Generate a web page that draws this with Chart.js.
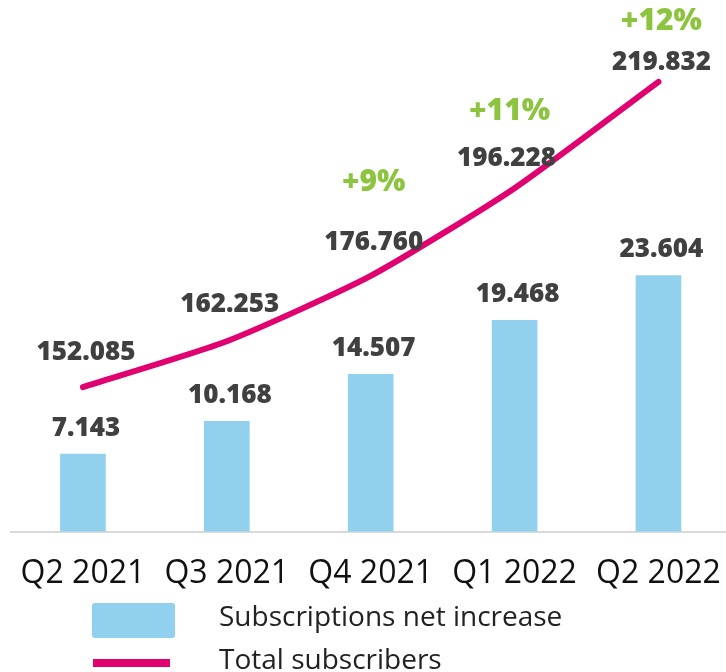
<!DOCTYPE html>
<html lang="en">
<head>
    <meta charset="UTF-8">
    <title>Subscribers</title>
    <script src="https://cdn.jsdelivr.net/npm/chart.js"></script>
    <style>
        html, body { margin: 0; padding: 0; background: #fff; overflow: hidden; }
        #chart { display: block; }
    </style>
</head>
<body>
<canvas id="chart" width="736" height="672"></canvas>

<script>
// data
const quarters = ['Q2 2021', 'Q3 2021', 'Q4 2021', 'Q1 2022', 'Q2 2022'];
const netIncrease = [7.143, 10.168, 14.507, 19.468, 23.604];
const totalSubs = [152.085, 162.253, 176.760, 196.228, 219.832];
const growth = [null, null, '+9%', '+11%', '+12%'];

const BLUE = '#92D1EE';
const PINK = '#E0006F';
const GREEN = '#8CC43F';
const LABEL = '#404040';

// number formatting like 152.085
function fmt(v) {
    return v.toFixed(3);
}

// vertical label offsets above the line points (by index)
const lineLabelUp = [34, 37, 33, 30, 19];
const growthUp = [0, 0, 60, 47, 41];

const labelPlugin = {
    id: 'labels',
    afterDatasetsDraw(chart) {
        const ctx = chart.ctx;
        ctx.save();
        ctx.textAlign = 'center';
        ctx.textBaseline = 'middle';

        // bar labels
        ctx.font = '800 26px "Open Sans"';
        ctx.fillStyle = LABEL;
        chart.getDatasetMeta(1).data.forEach((bar, i) => {
            ctx.fillText(fmt(netIncrease[i]), bar.x + 3, bar.y - 26);
        });

        // line labels + growth
        chart.getDatasetMeta(0).data.forEach((pt, i) => {
            const ly = pt.y - lineLabelUp[i];
            ctx.font = '800 26px "Open Sans"';
            ctx.fillStyle = LABEL;
            ctx.fillText(fmt(totalSubs[i]), pt.x + (i === 3 ? -8 : 3), ly);
            if (growth[i]) {
                ctx.font = '800 30px "Open Sans"';
                ctx.fillStyle = GREEN;
                ctx.fillText(growth[i], pt.x + (i === 3 ? -5 : 3), ly - growthUp[i]);
            }
        });
        ctx.restore();
    },
    afterDraw(chart) {
        // legend below the axis
        const ctx = chart.ctx;
        ctx.save();
        ctx.fillStyle = BLUE;
        ctx.beginPath();
        ctx.roundRect(92, 603, 83, 35, 3);
        ctx.fill();
        ctx.strokeStyle = PINK;
        ctx.lineWidth = 8;
        ctx.beginPath();
        ctx.moveTo(93, 663);
        ctx.lineTo(170, 663);
        ctx.stroke();
        ctx.fillStyle = '#222';
        ctx.font = '28px "Open Sans"';
        ctx.textAlign = 'left';
        ctx.textBaseline = 'middle';
        ctx.fillText('Subscriptions net increase', 219, 618);
        ctx.fillText('Total subscribers', 219, 661);
        ctx.restore();
    }
};

new Chart(document.getElementById('chart'), {
    data: {
        labels: quarters,
        datasets: [
            {
                type: 'line',
                label: 'Total subscribers',
                data: totalSubs,
                yAxisID: 'y1',
                borderColor: PINK,
                borderWidth: 6,
                borderCapStyle: 'round',
                tension: 0.2,
                pointRadius: 0,
                fill: false
            },
            {
                type: 'bar',
                label: 'Subscriptions net increase',
                data: netIncrease,
                yAxisID: 'y',
                backgroundColor: BLUE,
                barThickness: 45
            }
        ]
    },
    options: {
        responsive: false,
        animation: false,
        layout: { padding: { left: 11, right: 2, top: 0, bottom: 64 } },
        plugins: {
            legend: { display: false },
            tooltip: { enabled: false }
        },
        scales: {
            x: {
                offset: true,
                grid: { display: false },
                border: { display: true, color: '#d9d9d9', width: 2 },
                ticks: {
                    color: '#111',
                    padding: 15,
                    maxRotation: 0,
                    font: { family: 'Open Sans', size: 32 }
                }
            },
            y: {
                display: false,
                min: 0,
                max: 49
            },
            y1: {
                display: false,
                min: 120,
                max: 238
            }
        }
    },
    plugins: [labelPlugin]
});
</script>
</body>
</html>
